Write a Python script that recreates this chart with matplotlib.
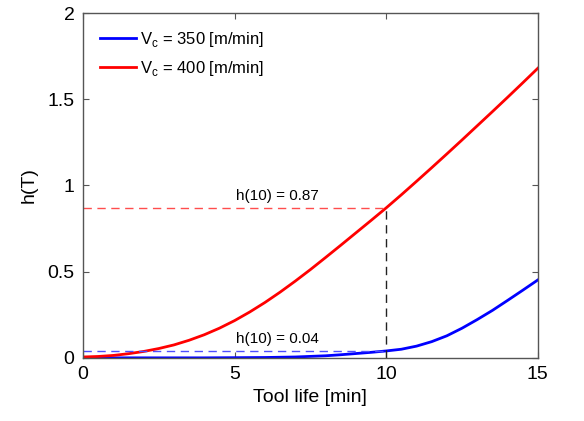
import matplotlib
matplotlib.use("Agg")
import matplotlib.pyplot as plt

plt.rcParams['font.family'] = ['Liberation Sans', 'DejaVu Sans']

# Hazard rate h(T) vs tool life for two cutting speeds
t_350 = [0, 2, 4, 5, 6, 7, 8, 8.5, 9, 9.5, 10, 10.5, 11, 11.5, 12, 12.5, 13, 13.5, 14, 14.5, 15]
h_350 = [0, 0, 0, 0.001, 0.002, 0.005, 0.012, 0.018, 0.025, 0.032, 0.04, 0.05, 0.068, 0.094,
         0.128, 0.172, 0.222, 0.275, 0.333, 0.392, 0.452]

t_400 = [0, 0.5, 1, 1.5, 2, 2.5, 3, 3.5, 4, 4.5, 5, 5.5, 6, 6.5, 7, 7.5, 8, 8.5, 9, 9.5,
         10, 10.5, 11, 11.5, 12, 12.5, 13, 13.5, 14, 14.5, 15]
h_400 = [0.005, 0.008, 0.014, 0.024, 0.037, 0.054, 0.075, 0.102, 0.134, 0.172, 0.216,
         0.266, 0.321, 0.381, 0.445, 0.512, 0.582, 0.653, 0.725, 0.797,
         0.87, 0.946, 1.024, 1.103, 1.183, 1.264, 1.346, 1.428, 1.511, 1.595, 1.68]

t_mark = 10
h10_350 = 0.04
h10_400 = 0.87

fig = plt.figure(figsize=(5.84, 4.21), dpi=100)
ax = fig.add_axes([0.142, 0.150, 0.779, 0.819])

ax.plot(t_350, h_350, color='#0000ff', lw=2.0, label=r'V$_\mathregular{c}$ = 350 [m/min]')
ax.plot(t_400, h_400, color='#ff0000', lw=2.0, label=r'V$_\mathregular{c}$ = 400 [m/min]')

ax.plot([0, t_mark], [h10_400, h10_400], color='#ff4d4d', lw=1.0, ls=(0, (6, 4)))
ax.plot([0, t_mark], [h10_350, h10_350], color='#4d4dff', lw=1.0, ls=(0, (6, 4)))
ax.plot([t_mark, t_mark], [0, h10_400], color='#222222', lw=1.0, ls=(0, (6, 4)))

ax.text(6.4, h10_400 + 0.03, f'h(10) = {h10_400:.2f}', ha='center', va='bottom', fontsize=11)
ax.text(6.4, h10_350 + 0.03, f'h(10) = {h10_350:.2f}', ha='center', va='bottom', fontsize=11)

ax.set_xlim(0, 15)
ax.set_ylim(0, 2)
ax.set_xticks([0, 5, 10, 15])
ax.set_yticks([0, 0.5, 1, 1.5, 2])
ax.set_yticklabels(['0', '0.5', '1', '1.5', '2'])
ax.tick_params(direction='in', top=True, right=True, labelsize=14, length=4,
               color='#555555', pad=6)
for s in ax.spines.values():
    s.set_color('#555555')
    s.set_linewidth(1.0)

ax.set_xlabel('Tool life [min]', fontsize=14, labelpad=4)
ax.set_ylabel('h(T)', fontsize=14, labelpad=7)

ax.legend(loc='upper left', frameon=False, fontsize=12, handlelength=2.2,
          handletextpad=0.2, borderaxespad=0.6, labelspacing=0.6)

fig.savefig('out.png', dpi=100)
